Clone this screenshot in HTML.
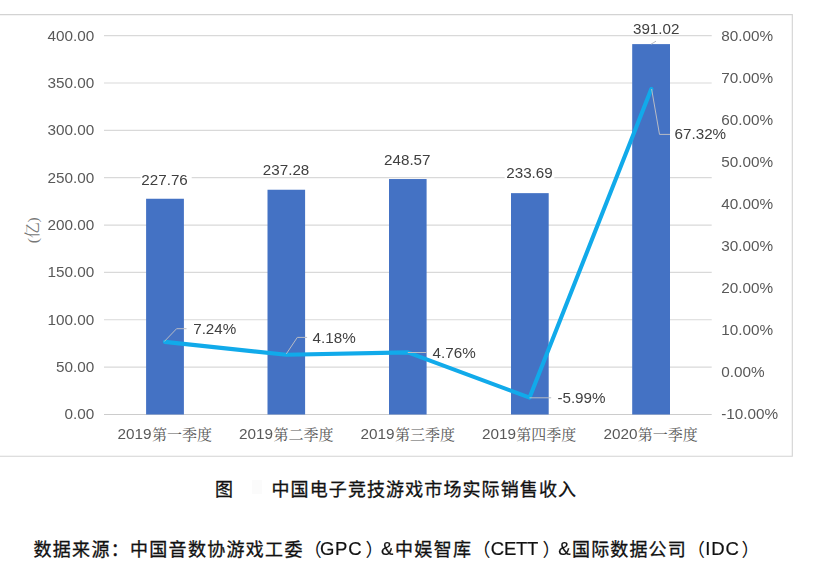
<!DOCTYPE html>
<html lang="zh-CN">
<head>
<meta charset="utf-8">
<title>中国电子竞技游戏市场实际销售收入</title>
<style>
html,body{margin:0;padding:0;background:#fff;}
body{width:820px;height:577px;position:relative;overflow:hidden;font-family:"Liberation Sans",sans-serif;}
svg{position:absolute;left:0;top:0;}
.tl{position:absolute;left:0;top:0;width:820px;height:577px;will-change:transform;}
.t{position:absolute;white-space:nowrap;line-height:20px;height:20px;font-family:"Liberation Sans",sans-serif;}
.h{position:absolute;white-space:nowrap;line-height:1.2;color:transparent;font-family:"Liberation Sans","Noto Sans CJK SC",sans-serif;}
</style>
</head>
<body>
<svg width="820" height="577" viewBox="0 0 820 577">
<path d="M-2 14.6 H792.3 V456.3 H-2" fill="none" stroke="#d3d3d3" stroke-width="1.1"/>
<line x1="104.0" x2="711.7" y1="367.14" y2="367.14" stroke="#d9d9d9" stroke-width="1.15"/>
<line x1="104.0" x2="711.7" y1="319.77" y2="319.77" stroke="#d9d9d9" stroke-width="1.15"/>
<line x1="104.0" x2="711.7" y1="272.41" y2="272.41" stroke="#d9d9d9" stroke-width="1.15"/>
<line x1="104.0" x2="711.7" y1="225.05" y2="225.05" stroke="#d9d9d9" stroke-width="1.15"/>
<line x1="104.0" x2="711.7" y1="177.69" y2="177.69" stroke="#d9d9d9" stroke-width="1.15"/>
<line x1="104.0" x2="711.7" y1="130.32" y2="130.32" stroke="#d9d9d9" stroke-width="1.15"/>
<line x1="104.0" x2="711.7" y1="82.96" y2="82.96" stroke="#d9d9d9" stroke-width="1.15"/>
<line x1="104.0" x2="711.7" y1="35.60" y2="35.60" stroke="#d9d9d9" stroke-width="1.15"/>
<line x1="104.0" x2="711.7" y1="414.50" y2="414.50" stroke="#cccccc" stroke-width="1.1"/>
<rect x="146.1" y="198.75" width="37.8" height="215.75" fill="#4472c4"/>
<rect x="267.5" y="189.74" width="37.6" height="224.76" fill="#4472c4"/>
<rect x="389.0" y="179.04" width="37.6" height="235.46" fill="#4472c4"/>
<rect x="511.0" y="193.14" width="37.7" height="221.36" fill="#4472c4"/>
<rect x="632.2" y="44.11" width="37.8" height="370.39" fill="#4472c4"/>
<rect x="140.5" y="171.0" width="51.2" height="16.5" fill="#fff"/>
<rect x="504.6" y="165.0" width="49.8" height="16.0" fill="#fff"/>
<rect x="670.2" y="126.0" width="53.8" height="16.0" fill="#fff"/>
<polyline points="164.9,341.9 286.3,354.8 407.8,352.4 529.6,397.6 651.3,89.0" fill="none" stroke="#11aaea" stroke-width="4.1" stroke-linejoin="round" stroke-linecap="round"/>
<path d="M164.3 341.5 L176.6 328.7 H186.5" fill="none" stroke="#b9bcc4" stroke-width="1"/>
<path d="M286.3 353.9 L297.3 337.4 H307.1" fill="none" stroke="#b9bcc4" stroke-width="1"/>
<path d="M407.8 352.5 H426.5" fill="none" stroke="#b9bcc4" stroke-width="1"/>
<path d="M529.5 397.8 H551.2" fill="none" stroke="#b9bcc4" stroke-width="1"/>
<path d="M651.6 89 L659.5 134.4 H670" fill="none" stroke="#b9bcc4" stroke-width="1"/>
<path d="M651 44.2 L656 41.2" fill="none" stroke="#b9bcc4" stroke-width="1"/>
<text x="151.91" y="440" font-size="15" fill="#585858" font-family="'Liberation Serif','Noto Serif CJK SC',serif">第一季度</text>
<text x="273.41" y="440" font-size="15" fill="#585858" font-family="'Liberation Serif','Noto Serif CJK SC',serif">第二季度</text>
<text x="394.91" y="440" font-size="15" fill="#585858" font-family="'Liberation Serif','Noto Serif CJK SC',serif">第三季度</text>
<text x="516.31" y="440" font-size="15" fill="#585858" font-family="'Liberation Serif','Noto Serif CJK SC',serif">第四季度</text>
<text x="637.81" y="440" font-size="15" fill="#585858" font-family="'Liberation Serif','Noto Serif CJK SC',serif">第一季度</text>
<g transform="translate(37.6 243.2) rotate(-90)"><text x="0" y="0" font-size="15.5" fill="#777777" font-family="'Liberation Serif','Noto Serif CJK SC',serif">(亿)</text></g>
<text x="215" y="495.5" font-size="18" fill="#111111" stroke="#111111" stroke-width="0.3" font-family="'Liberation Sans','Noto Sans CJK SC',sans-serif">图</text>
<text x="271.5" y="495.5" font-size="18" letter-spacing="1.1" fill="#111111" stroke="#111111" stroke-width="0.3" font-family="'Liberation Sans','Noto Sans CJK SC',sans-serif">中国电子竞技游戏市场实际销售收入</text>
<rect x="252" y="480" width="10" height="14" fill="#f6f6f6" opacity="0.45"/>
<text x="33.5" y="555.5" font-size="18" letter-spacing="1.3" fill="#111111" stroke="#111111" stroke-width="0.3" font-family="'Liberation Sans','Noto Sans CJK SC',sans-serif">数据来源：中国音数协游戏工委</text>
<text x="303.7" y="555.5" font-size="18" fill="#111111" font-family="'Liberation Sans','Noto Sans CJK SC',sans-serif">（</text>
<text x="365.5" y="555.5" font-size="18" fill="#111111" font-family="'Liberation Sans','Noto Sans CJK SC',sans-serif">）</text>
<text x="395" y="555.5" font-size="18" letter-spacing="1.35" fill="#111111" stroke="#111111" stroke-width="0.3" font-family="'Liberation Sans','Noto Sans CJK SC',sans-serif">中娱智库</text>
<text x="472.4" y="555.5" font-size="18" fill="#111111" font-family="'Liberation Sans','Noto Sans CJK SC',sans-serif">（</text>
<text x="542.4" y="555.5" font-size="18" fill="#111111" font-family="'Liberation Sans','Noto Sans CJK SC',sans-serif">）</text>
<text x="572" y="555.5" font-size="18" letter-spacing="1.15" fill="#111111" stroke="#111111" stroke-width="0.3" font-family="'Liberation Sans','Noto Sans CJK SC',sans-serif">国际数据公司</text>
<text x="686.9" y="555.5" font-size="18" fill="#111111" font-family="'Liberation Sans','Noto Sans CJK SC',sans-serif">（</text>
<text x="741.5" y="555.5" font-size="18" fill="#111111" font-family="'Liberation Sans','Noto Sans CJK SC',sans-serif">）</text>
</svg>
<div class="tl">
<div class="t" style="top:404.40px;font-size:15.30px;color:#595959;right:725.80px;text-align:right;">0.00</div>
<div class="t" style="top:357.04px;font-size:15.30px;color:#595959;right:725.80px;text-align:right;">50.00</div>
<div class="t" style="top:309.67px;font-size:15.30px;color:#595959;right:725.80px;text-align:right;">100.00</div>
<div class="t" style="top:262.31px;font-size:15.30px;color:#595959;right:725.80px;text-align:right;">150.00</div>
<div class="t" style="top:214.95px;font-size:15.30px;color:#595959;right:725.80px;text-align:right;">200.00</div>
<div class="t" style="top:167.59px;font-size:15.30px;color:#595959;right:725.80px;text-align:right;">250.00</div>
<div class="t" style="top:120.22px;font-size:15.30px;color:#595959;right:725.80px;text-align:right;">300.00</div>
<div class="t" style="top:72.86px;font-size:15.30px;color:#595959;right:725.80px;text-align:right;">350.00</div>
<div class="t" style="top:25.50px;font-size:15.30px;color:#595959;right:725.80px;text-align:right;">400.00</div>
<div class="t" style="top:404.40px;font-size:15.30px;color:#595959;left:721.20px;">-10.00%</div>
<div class="t" style="top:362.30px;font-size:15.30px;color:#595959;left:721.20px;">0.00%</div>
<div class="t" style="top:320.20px;font-size:15.30px;color:#595959;left:721.20px;">10.00%</div>
<div class="t" style="top:278.10px;font-size:15.30px;color:#595959;left:721.20px;">20.00%</div>
<div class="t" style="top:236.00px;font-size:15.30px;color:#595959;left:721.20px;">30.00%</div>
<div class="t" style="top:193.90px;font-size:15.30px;color:#595959;left:721.20px;">40.00%</div>
<div class="t" style="top:151.80px;font-size:15.30px;color:#595959;left:721.20px;">50.00%</div>
<div class="t" style="top:109.70px;font-size:15.30px;color:#595959;left:721.20px;">60.00%</div>
<div class="t" style="top:67.60px;font-size:15.30px;color:#595959;left:721.20px;">70.00%</div>
<div class="t" style="top:25.50px;font-size:15.30px;color:#595959;left:721.20px;">80.00%</div>
<div class="t" style="top:169.60px;font-size:15.20px;color:#404040;left:164.60px;width:200px;margin-left:-100px;text-align:center;">227.76</div>
<div class="t" style="top:160.20px;font-size:15.20px;color:#404040;left:286.10px;width:200px;margin-left:-100px;text-align:center;">237.28</div>
<div class="t" style="top:150.00px;font-size:15.20px;color:#404040;left:407.30px;width:200px;margin-left:-100px;text-align:center;">248.57</div>
<div class="t" style="top:163.40px;font-size:15.20px;color:#404040;left:529.50px;width:200px;margin-left:-100px;text-align:center;">233.69</div>
<div class="t" style="top:19.30px;font-size:15.20px;color:#404040;left:656.20px;width:200px;margin-left:-100px;text-align:center;">391.02</div>
<div class="t" style="top:319.30px;font-size:15.20px;color:#404040;left:193.20px;">7.24%</div>
<div class="t" style="top:328.30px;font-size:15.20px;color:#404040;left:312.60px;">4.18%</div>
<div class="t" style="top:342.60px;font-size:15.20px;color:#404040;left:432.60px;">4.76%</div>
<div class="t" style="top:388.20px;font-size:15.20px;color:#404040;left:557.40px;">-5.99%</div>
<div class="t" style="top:124.10px;font-size:15.20px;color:#404040;left:674.60px;">67.32%</div>
<div class="t" style="top:423.50px;font-size:15.30px;color:#595959;left:117.59px;">2019</div>
<div class="h" style="left:151.6px;top:426px;font-size:15px;">第一季度</div>
<div class="t" style="top:423.50px;font-size:15.30px;color:#595959;left:239.09px;">2019</div>
<div class="h" style="left:273.1px;top:426px;font-size:15px;">第二季度</div>
<div class="t" style="top:423.50px;font-size:15.30px;color:#595959;left:360.59px;">2019</div>
<div class="h" style="left:394.6px;top:426px;font-size:15px;">第三季度</div>
<div class="t" style="top:423.50px;font-size:15.30px;color:#595959;left:481.99px;">2019</div>
<div class="h" style="left:516.0px;top:426px;font-size:15px;">第四季度</div>
<div class="t" style="top:423.50px;font-size:15.30px;color:#595959;left:603.49px;">2020</div>
<div class="h" style="left:637.5px;top:426px;font-size:15px;">第一季度</div>
<div class="h" style="left:26px;top:222px;font-size:14px;">(亿)</div>
<div class="h" style="left:215px;top:478px;font-size:18px;letter-spacing:1.3px;">图</div>
<div class="h" style="left:271.5px;top:478px;font-size:18px;letter-spacing:1.3px;">中国电子竞技游戏市场实际销售收入</div>
<div class="t" style="top:538.60px;font-size:18.50px;color:#111111;letter-spacing:0.80px;-webkit-text-stroke:0.2px #111111;left:319.90px;">GPC</div>
<div class="t" style="top:538.60px;font-size:18.50px;color:#111111;-webkit-text-stroke:0.2px #111111;left:381.09px;">&amp;</div>
<div class="t" style="top:538.60px;font-size:18.50px;color:#111111;letter-spacing:-0.25px;-webkit-text-stroke:0.2px #111111;left:490.85px;">CETT</div>
<div class="t" style="top:538.60px;font-size:18.50px;color:#111111;-webkit-text-stroke:0.2px #111111;left:558.19px;">&amp;</div>
<div class="t" style="top:538.60px;font-size:18.50px;color:#111111;letter-spacing:0.80px;-webkit-text-stroke:0.2px #111111;left:705.34px;">IDC</div>
<div class="h" style="left:32.8px;top:538px;font-size:18px;letter-spacing:1.1px;">数据来源：中国音数协游戏工委（</div>
<div class="h" style="left:365.5px;top:538px;font-size:18px;">）</div>
<div class="h" style="left:395px;top:538px;font-size:18px;letter-spacing:1.1px;">中娱智库（</div>
<div class="h" style="left:542.4px;top:538px;font-size:18px;">）</div>
<div class="h" style="left:572px;top:538px;font-size:18px;letter-spacing:1.1px;">国际数据公司（</div>
<div class="h" style="left:741.5px;top:538px;font-size:18px;">）</div>
</div>
</body>
</html>
